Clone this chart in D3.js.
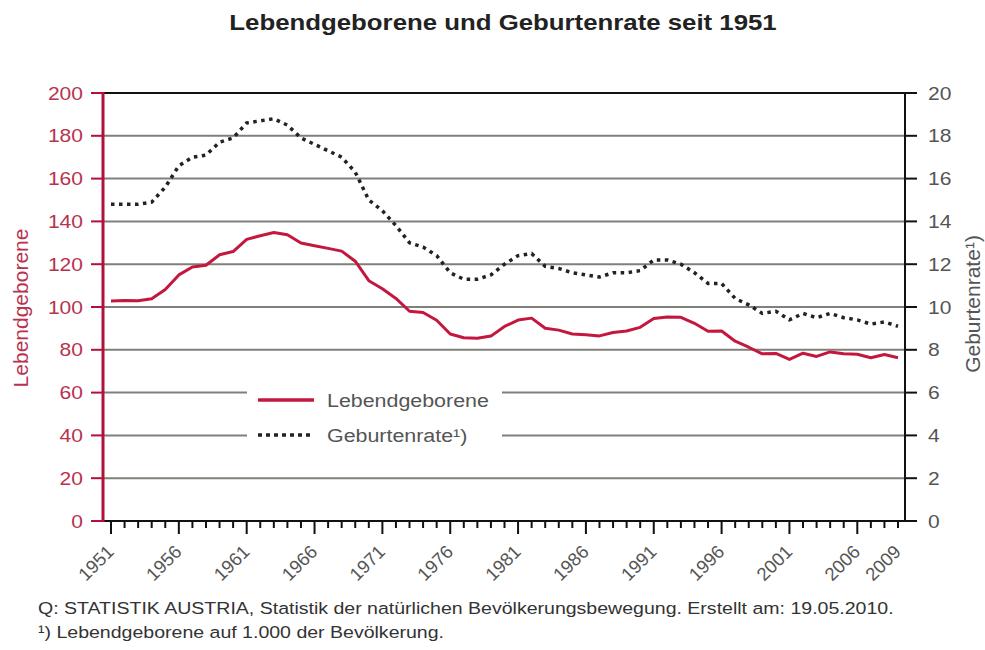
<!DOCTYPE html>
<html>
<head>
<meta charset="utf-8">
<script src="https://cdn.jsdelivr.net/npm/d3@7"></script>
<style>
  html, body { margin: 0; padding: 0; background: #fff; }
  svg text { font-family: "Liberation Sans", Arial, sans-serif; }
</style>
</head>
<body>
<div id="chart"></div>
<script>
// Lebendgeborene (in 1.000) und Geburtenrate, Österreich 1951-2009
var years = d3.range(1951, 2010);
var lebendgeborene = [
  102.8, 103.0, 102.9, 103.9, 108.2, 115.0, 118.7, 119.5, 124.4, 125.9,
  131.6, 133.3, 134.8, 133.8, 129.9, 128.6, 127.4, 126.1, 121.4, 112.3,
  108.5, 104.0, 98.0, 97.4, 93.8, 87.4, 85.6, 85.4, 86.4, 90.9,
  93.9, 94.8, 90.1, 89.2, 87.4, 87.0, 86.5, 88.1, 88.8, 90.5,
  94.6, 95.3, 95.2, 92.4, 88.7, 88.8, 84.0, 81.2, 78.1, 78.3,
  75.5, 78.4, 76.9, 79.0, 78.2, 77.9, 76.3, 77.8, 76.3
];
var geburtenrate = [
  14.8, 14.8, 14.8, 14.9, 15.6, 16.6, 17.0, 17.1, 17.7, 17.9,
  18.6, 18.7, 18.8, 18.5, 17.9, 17.6, 17.3, 17.0, 16.3, 15.0,
  14.5, 13.8, 13.0, 12.8, 12.4, 11.6, 11.3, 11.3, 11.5, 12.0,
  12.4, 12.5, 11.9, 11.8, 11.6, 11.5, 11.4, 11.6, 11.6, 11.7,
  12.2, 12.2, 12.0, 11.6, 11.1, 11.1, 10.4, 10.1, 9.7, 9.8,
  9.4, 9.7, 9.5, 9.7, 9.5, 9.4, 9.2, 9.3, 9.1
];
var leftTicks = [0, 20, 40, 60, 80, 100, 120, 140, 160, 180, 200];
var rightTicks = [0, 2, 4, 6, 8, 10, 12, 14, 16, 18, 20];
var xLabelYears = [1951, 1956, 1961, 1966, 1971, 1976, 1981, 1986, 1991, 1996, 2001, 2006, 2009];

var titleText = "Lebendgeborene und Geburtenrate seit 1951";
var legendNames = ["Lebendgeborene", "Geburtenrate\u00b9)"];
var footerLines = [
  "Q: STATISTIK AUSTRIA, Statistik der nat\u00fcrlichen Bev\u00f6lkerungsbewegung. Erstellt am: 19.05.2010.",
  "\u00b9) Lebendgeborene auf 1.000 der Bev\u00f6lkerung."
];

var W = 985, H = 650;
var plot = {left: 103, right: 905, top: 93, bottom: 521};
var red = "#c4173f", redAxis = "#b3113b", redText = "#b8324f";
var grey = "#555";

var x = d3.scaleLinear().domain([1951, 2009]).range([111, 898]);
var yL = d3.scaleLinear().domain([0, 200]).range([plot.bottom, plot.top]);
var yR = d3.scaleLinear().domain([0, 20]).range([plot.bottom, plot.top]);

var svg = d3.select("#chart").append("svg")
    .attr("width", W).attr("height", H);

// title
svg.append("text")
    .attr("transform", "translate(503,30) scale(1.2,1)")
    .attr("text-anchor", "middle")
    .style("font-size", "21.5px").style("font-weight", "bold")
    .attr("fill", "#222")
    .text(titleText);

// gridlines
svg.append("g").selectAll("line")
    .data(leftTicks.filter(function(d) { return d > 0 && d < 200; }))
    .enter().append("line")
    .attr("x1", plot.left).attr("x2", plot.right)
    .attr("y1", function(d) { return yL(d); })
    .attr("y2", function(d) { return yL(d); })
    .attr("stroke", "#80807a").attr("stroke-width", 2);

// top border
svg.append("line")
    .attr("x1", plot.left).attr("x2", plot.right)
    .attr("y1", plot.top).attr("y2", plot.top)
    .attr("stroke", "#111").attr("stroke-width", 2);

// legend background (cuts the gridlines)
svg.append("rect")
    .attr("x", 247).attr("y", 372).attr("width", 255).attr("height", 84)
    .attr("fill", "#fff");

var lineL = d3.line()
    .x(function(d, i) { return x(years[i]); })
    .y(function(d) { return yL(d); });
var lineR = d3.line()
    .x(function(d, i) { return x(years[i]); })
    .y(function(d) { return yR(d); });

svg.append("path")
    .datum(geburtenrate)
    .attr("d", lineR)
    .attr("fill", "none")
    .attr("stroke", "#222").attr("stroke-width", 3.5)
    .attr("stroke-dasharray", "3.5,4.5");

svg.append("path")
    .datum(lebendgeborene)
    .attr("d", lineL)
    .attr("fill", "none")
    .attr("stroke", red).attr("stroke-width", 3)
    .attr("stroke-linejoin", "round");

// x axis
svg.append("line")
    .attr("x1", plot.left).attr("x2", plot.right)
    .attr("y1", plot.bottom).attr("y2", plot.bottom)
    .attr("stroke", "#111").attr("stroke-width", 2);

svg.append("g").selectAll("line")
    .data(years)
    .enter().append("line")
    .attr("x1", function(d) { return x(d); })
    .attr("x2", function(d) { return x(d); })
    .attr("y1", plot.bottom)
    .attr("y2", function(d) { return (d - 1951) % 5 === 0 ? plot.bottom + 13 : plot.bottom + 7; })
    .attr("stroke", "#111").attr("stroke-width", 2);

svg.append("g").selectAll("text")
    .data(xLabelYears)
    .enter().append("text")
    .attr("transform", function(d) { return "translate(" + (x(d) + 4) + ",553) rotate(-45)"; })
    .attr("text-anchor", "end")
    .style("font-size", "18.5px")
    .attr("fill", grey)
    .text(function(d) { return d; });

// left axis (red)
svg.append("line")
    .attr("x1", plot.left).attr("x2", plot.left)
    .attr("y1", plot.top - 1).attr("y2", plot.bottom + 1)
    .attr("stroke", redAxis).attr("stroke-width", 3);

svg.append("g").selectAll("line")
    .data(leftTicks)
    .enter().append("line")
    .attr("x1", plot.left - 12).attr("x2", plot.left)
    .attr("y1", function(d) { return yL(d); })
    .attr("y2", function(d) { return yL(d); })
    .attr("stroke", redAxis).attr("stroke-width", 2);

svg.append("g").selectAll("text")
    .data(leftTicks)
    .enter().append("text")
    .attr("transform", function(d) { return "translate(83," + (yL(d) + 6.5) + ") scale(1.17,1)"; })
    .attr("text-anchor", "end")
    .style("font-size", "18px")
    .attr("fill", redText)
    .text(function(d) { return d; });

svg.append("text")
    .attr("transform", "translate(28,308) rotate(-90)")
    .attr("text-anchor", "middle")
    .style("font-size", "21px")
    .attr("fill", redText)
    .text(legendNames[0]);

// right axis
svg.append("line")
    .attr("x1", plot.right).attr("x2", plot.right)
    .attr("y1", plot.top - 1).attr("y2", plot.bottom + 1)
    .attr("stroke", "#111").attr("stroke-width", 2);

svg.append("g").selectAll("line")
    .data(rightTicks)
    .enter().append("line")
    .attr("x1", plot.right).attr("x2", plot.right + 12)
    .attr("y1", function(d) { return yR(d); })
    .attr("y2", function(d) { return yR(d); })
    .attr("stroke", "#111").attr("stroke-width", 2);

svg.append("g").selectAll("text")
    .data(rightTicks)
    .enter().append("text")
    .attr("transform", function(d) { return "translate(928," + (yR(d) + 6.5) + ") scale(1.17,1)"; })
    .attr("text-anchor", "start")
    .style("font-size", "18px")
    .attr("fill", grey)
    .text(function(d) { return d; });

svg.append("text")
    .attr("transform", "translate(980,304) rotate(-90)")
    .attr("text-anchor", "middle")
    .style("font-size", "21px")
    .attr("fill", grey)
    .text(legendNames[1]);

// legend
var legend = svg.append("g");
legend.append("line")
    .attr("x1", 258).attr("x2", 314).attr("y1", 400).attr("y2", 400)
    .attr("stroke", red).attr("stroke-width", 3.5);
legend.append("line")
    .attr("x1", 258).attr("x2", 314).attr("y1", 435).attr("y2", 435)
    .attr("stroke", "#222").attr("stroke-width", 3.5)
    .attr("stroke-dasharray", "4,4");
legend.selectAll("text")
    .data(legendNames)
    .enter().append("text")
    .attr("transform", function(d, i) { return "translate(327," + (407 + i * 35) + ") scale(1.19,1)"; })
    .style("font-size", "18px")
    .attr("fill", grey)
    .text(function(d) { return d; });

// footer
svg.append("g").selectAll("text")
    .data(footerLines)
    .enter().append("text")
    .attr("transform", function(d, i) { return "translate(38," + (614 + i * 24) + ") scale(1.15,1)"; })
    .style("font-size", "17px")
    .attr("fill", "#333")
    .text(function(d) { return d; });
</script>
</body>
</html>
